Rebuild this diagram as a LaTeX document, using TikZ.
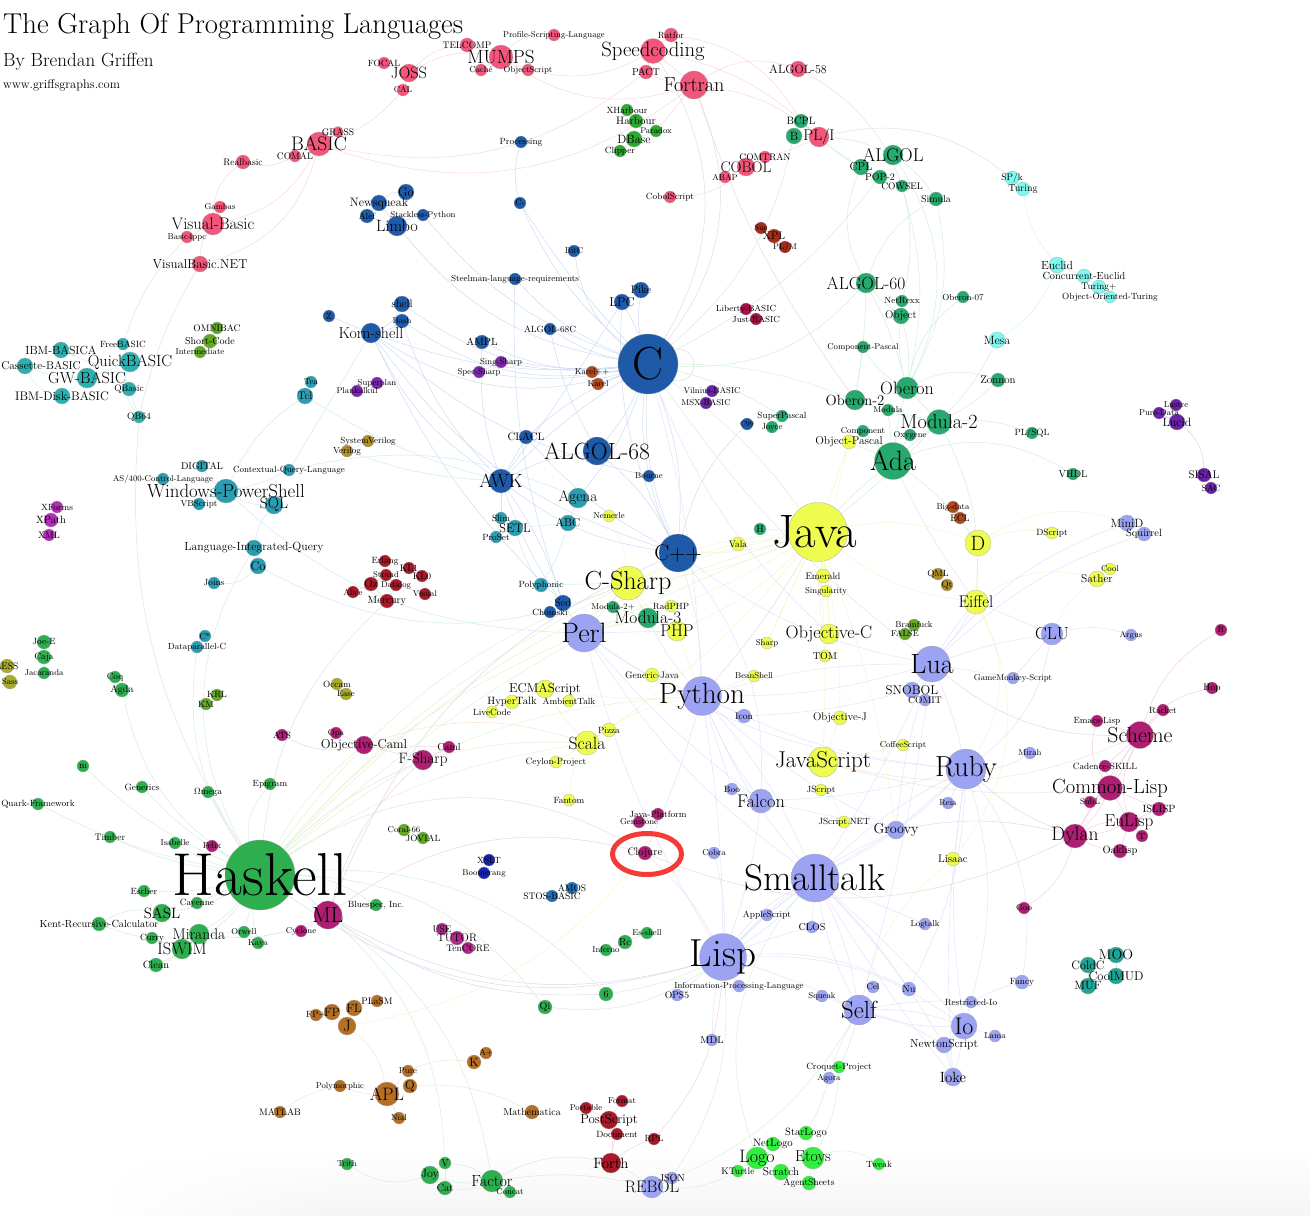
\documentclass[tikz,border=0pt]{standalone}
\usetikzlibrary{shapes.geometric}
\pgfdeclarelayer{bg}\pgfsetlayers{bg,main}
\definecolor{cPk}{HTML}{F2567B}\definecolor{cBl}{HTML}{1F5AA8}\definecolor{cTe}{HTML}{2A9DB3}
\definecolor{cTq}{HTML}{2BB0B0}\definecolor{cGr}{HTML}{2DAF4F}\definecolor{cDg}{HTML}{27A96E}
\definecolor{cYe}{HTML}{EEFC4F}\definecolor{cPw}{HTML}{9BA3F2}\definecolor{cMg}{HTML}{AE1E73}
\definecolor{cBr}{HTML}{B56F25}\definecolor{cDr}{HTML}{A9192A}\definecolor{cLc}{HTML}{7FF9F0}
\definecolor{cLm}{HTML}{2FF03F}\definecolor{cPu}{HTML}{6A22A8}\definecolor{cVi}{HTML}{7D27AC}
\definecolor{cXm}{HTML}{B62BBC}\definecolor{cOl}{HTML}{A8AB2C}\definecolor{cOg}{HTML}{62A825}
\definecolor{cRu}{HTML}{B04A1F}\definecolor{cBk}{HTML}{A82A18}\definecolor{cCr}{HTML}{A80F48}
\definecolor{cDy}{HTML}{B08F2A}\definecolor{cBg}{HTML}{2CA92F}\definecolor{cNv}{HTML}{1A24B0}
\definecolor{cMb}{HTML}{2070B8}\definecolor{cTg}{HTML}{1FA596}\definecolor{cDm}{HTML}{B02A8C}
\definecolor{ePk}{HTML}{FBD3E0}\definecolor{eMa}{HTML}{E0D8E2}\definecolor{eBe}{HTML}{E3E0D4}
\definecolor{eTe}{HTML}{CDF0F0}\definecolor{eBl}{HTML}{CBD9F0}\definecolor{eCy}{HTML}{CBEAF2}
\definecolor{eGr}{HTML}{D2EDD8}\definecolor{eYg}{HTML}{E2F2CB}\definecolor{eYe}{HTML}{F2F7C8}
\definecolor{ePw}{HTML}{E0E2FB}\definecolor{eDg}{HTML}{CEEDE1}\definecolor{eMp}{HTML}{F2CDDE}
\definecolor{eOr}{HTML}{F5E1CE}\definecolor{ePu}{HTML}{E0CEF0}\definecolor{eLc}{HTML}{CEF8F0}
\definecolor{eGy}{HTML}{E2DFDF}\definecolor{eVi}{HTML}{DCD5EB}\definecolor{eLi}{HTML}{CEF5D2}
\definecolor{ringred}{HTML}{F43B35}
\tikzset{
 lang/.style={circle,inner sep=0pt,draw=black!35,line width=.25pt},
 lab/.style={inner sep=0pt,text=black},
 edge/.style={line width=.45pt},
 ttl/.style={inner sep=0pt,anchor=west}
}
\newcommand{\Ln}{}
\newcommand{\LnCircle}[8][0]{\node[lang,fill=#6,minimum size=2*#5pt] (#2) at (#3pt,-#4pt) {};}
\newcommand{\LnLabel}[8][0]{\pgfmathsetmacro\fsz{#7<13?#7:(#7<30?#7*1.09:#7*1.13)}\node[lab,font=\fontsize{\fsz}{\fsz}\selectfont] (#2t) at ([xshift=#1pt]#2) {#8};}
\newcommand{\Ed}[2]{\foreach \a/\b/\c in {#2}{\draw[edge,#1] (\a) to[bend left=\c] (\b);}}
\newcommand{\AllNodes}{%
\Ln{focal}{384}{63}{6}{cPk}{9}{FOCAL}\Ln{joss}{409}{73}{9}{cPk}{15}{JOSS}\Ln{cal}{403}{90}{6}{cPk}{8.5}{CAL}
\Ln{telcomp}{467}{45}{7}{cPk}{9.5}{TELCOMP}\Ln{mumps}{501}{57}{12}{cPk}{17.5}{MUMPS}
\Ln{profile}{554}{35}{6}{cPk}{8.5}{Profile-Scripting-Language}\Ln{cache}{481}{70}{6}{cPk}{8.5}{Caché}
\Ln{objectscript}{528}{70}{6}{cPk}{8.5}{ObjectScript}\Ln{speedcoding}{653}{51}{12.5}{cPk}{19}{Speedcoding}
\Ln{ratfor}{671}{35}{7}{cPk}{9}{Ratfor}\Ln{pact}{646}{72}{7}{cPk}{10}{PACT}\Ln{fortran}{694}{85}{14}{cPk}{18.5}{Fortran}
\Ln{algolfe}{798}{69}{8}{cPk}{12}{ALGOL-58}\Ln{comtran}{765}{157}{6}{cPk}{9.5}{COMTRAN}\Ln{cobol}{746}{167}{9}{cPk}{14}{COBOL}
\Ln{abap}{725}{177}{6}{cPk}{8.5}{ABAP}\Ln{cobolscript}{670}{197}{6}{cPk}{9}{CobolScript}\Ln{pli}{819}{137}{10}{cPk}{14.3}{PL/I}
\Ln{basic}{319}{144}{12}{cPk}{18}{BASIC}\Ln{grass}{338}{132}{5.5}{cPk}{9.5}{GRASS}\Ln{comal}{295}{156}{6}{cPk}{9.5}{COMAL}
\Ln{realbasic}{243}{162}{7}{cPk}{9.5}{Realbasic}\Ln{gambas}{220}{207}{6}{cPk}{8.5}{Gambas}\Ln{visualbasic}{213}{224}{11}{cPk}{15.3}{Visual-Basic}
\Ln{bfp}{187}{237}{6}{cPk}{8.5}{Basic4ppc}\Ln{vbnet}{200}{264}{8}{cPk}{12.9}{VisualBasic.NET}
\Ln{xharbour}{627}{110}{6}{cBg}{9}{XHarbour}\Ln{harbour}{636}{121}{7}{cBg}{10.8}{Harbour}\Ln{paradox}{656}{131}{6}{cBg}{8.5}{Paradox}
\Ln{dbase}{634}{139}{8}{cBg}{12}{DBase}\Ln{clipper}{620}{151}{6}{cBg}{9}{Clipper}
\Ln{processing}{521}{142}{6}{cBl}{9}{Processing}\Ln{cminus}{520}{203}{6}{cBl}{8.5}{C-}\Ln{bitc}{574}{251}{6}{cBl}{8.5}{BitC}
\Ln{steelman}{515}{279}{6}{cBl}{8.8}{Steelman-language-requirements}\Ln{pike}{641}{290}{8}{cBl}{11}{Pike}\Ln{lpc}{622}{302}{8}{cBl}{12.8}{LPC}
\Ln{algolsc}{550}{329}{6}{cBl}{9}{ALGOL-68C}\Ln{c}{648}{364}{30}{cBl}{41}{C}\Ln{ampl}{482}{342}{7}{cBl}{10.5}{AMPL}
\Ln{go}{406}{192}{8}{cBl}{12.5}{Go}\Ln{newsqueak}{379}{203}{8}{cBl}{12.2}{Newsqueak}\Ln{alef}{367}{216}{7}{cBl}{9}{Alef}
\Ln{stackless}{423}{215}{6}{cBl}{8.5}{Stackless-Python}\Ln{limbo}{397}{226}{10}{cBl}{15}{Limbo}
\Ln{shell}{402}{304}{8}{cBl}{11}{shell}\Ln{z}{329}{316}{6}{cBl}{9}{Z}\Ln{bash}{402}{321}{7}{cBl}{8.5}{Bash}\Ln{korn}{371}{333}{10}{cBl}{14.5}{Korn-shell}
\Ln{clacl}{526}{437}{7}{cBl}{10.8}{CLACL}\Ln{algolsix}{597}{451}{14}{cBl}{21.5}{ALGOL-68}\Ln{bourne}{649}{476}{6}{cBl}{8.5}{Bourne}
\Ln{awk}{501}{481}{12}{cBl}{17.5}{AWK}\Ln{cpp}{678}{553}{19}{cBl}{20.6}{C++}\Ln{sed}{563}{603}{8}{cBl}{11}{Sed}\Ln{chomski}{550}{612}{6}{cBl}{9}{Chomski}\Ln{cnn}{747}{424}{6}{cBl}{7.5}{C99}
\Ln{sue}{761}{228}{6}{cBk}{8}{Sue}\Ln{xpl}{774}{236}{7}{cBk}{11}{XPL}\Ln{plm}{785}{247}{6}{cBk}{8.5}{PL/M}
\Ln{liberty}{746}{309}{6}{cCr}{8.8}{Liberty-BASIC}\Ln{justb}{756}{319}{6}{cCr}{8.8}{Just-BASIC}
\Ln{singsharp}{501}{362}{6}{cVi}{8.5}{Sing-Sharp}\Ln{specsharp}{479}{372}{6}{cVi}{8.5}{Spec-Sharp}
\Ln{karelpp}{592}{372}{6}{cRu}{8.5}{Karel++}\Ln{karel}{598}{384}{6}{cRu}{8.5}{Karel}
\Ln{vilnius}{712}{391}{6}{cPu}{8.5}{Vilnius-BASIC}\Ln{msx}{706}{403}{6}{cPu}{8.5}{MSX-BASIC}
\Ln{superplan}{377}{383}{6}{cVi}{8.5}{Superplan}\Ln{plankalkul}{357}{391}{6}{cVi}{8.5}{Plankalkül}
\Ln{sysverilog}{368}{441}{6}{cDy}{8.8}{SystemVerilog}\Ln{verilog}{347}{451}{6}{cDy}{8.8}{Verilog}
\Ln{bcpl}{801}{121}{7}{cDg}{10.6}{BCPL}\Ln{b}{794}{136}{8}{cDg}{12}{B}\Ln{algol}{893}{155}{10}{cDg}{17}{ALGOL}\Ln{cpl}{861}{167}{8}{cDg}{11.5}{CPL}
\Ln{pop}{880}{177}{7}{cDg}{10}{POP-2}\Ln{cowsel}{902}{186}{6}{cDg}{9.5}{COWSEL}\Ln{simula}{936}{199}{7}{cDg}{10}{Simula}
\Ln{algolsx}{866}{283}{10}{cDg}{16}{ALGOL-60}\Ln{netrexx}{902}{301}{6}{cDg}{9}{NetRexx}\Ln{object}{901}{316}{8}{cDg}{11}{Object}\Ln{oberonsv}{963}{297}{6}{cDg}{8.8}{Oberon-07}
\Ln{comppascal}{863}{347}{6}{cDg}{8.5}{Component-Pascal}\Ln{zonnon}{998}{380}{7}{cDg}{11}{Zonnon}\Ln{oberon}{907}{388}{11}{cDg}{16.5}{Oberon}
\Ln{oberontwo}{855}{400}{10}{cDg}{13.5}{Oberon-2}\Ln{modula}{888}{410}{6}{cDg}{8.5}{Modula}\Ln{modulatwo}{939}{422}{12.5}{cDg}{18.5}{Modula-2}
\Ln{component}{863}{431}{6}{cDg}{8.5}{Component}\Ln{oxygene}{910}{435}{6}{cDg}{8.5}{Oxygene}\Ln{ada}{893}{461}{18.5}{cDg}{25.6}{Ada}
\Ln{plsql}{1032}{433}{6}{cDg}{9}{PL/SQL}\Ln{vhdl}{1073}{474}{6}{cDg}{10}{VHDL}\Ln{superpascal}{782}{416}{6}{cDg}{9}{SuperPascal}\Ln{joyce}{772}{427}{6}{cDg}{8.5}{Joyce}
\Ln{h}{760}{529}{6}{cDg}{10}{H}\Ln{modulatp}{613}{607}{6}{cDg}{8.5}{Modula-2+}\Ln{modulath}{648}{618}{10}{cDg}{16}{Modula-3}
\Ln{spk}{1012}{178}{7}{cLc}{9.5}{SP/k}\Ln{turing}{1023}{189}{7}{cLc}{10}{Turing}\Ln{euclid}{1057}{265}{8}{cLc}{11.7}{Euclid}
\Ln{ceuclid}{1084}{276}{7}{cLc}{10.3}{Concurrent-Euclid}\Ln{turingp}{1099}{287}{7}{cLc}{9.5}{Turing+}\Ln{oot}{1110}{297}{6}{cLc}{9}{Object-Oriented-Turing}\Ln{mesa}{997}{340}{8}{cLc}{12}{Mesa}
\Ln{lustre}{1176}{405}{6}{cPu}{8.5}{Lustre}\Ln{puredata}{1159}{413}{6}{cPu}{8.5}{Pure-Data}\Ln{lucid}{1177}{422}{8}{cPu}{12}{Lucid}\Ln{sisal}{1204}{475}{7}{cPu}{11}{SISAL}\Ln{sac}{1211}{488}{6}{cPu}{9}{SAC}
\Ln[-3]{java}{818}{532}{29.5}{cYe}{41.5}{Java}\Ln{objectpascal}{849}{442}{7}{cYe}{11.4}{Object-Pascal}\Ln{d}{978}{543}{13}{cYe}{19}{D}\Ln{dscript}{1052}{533}{6}{cYe}{9}{DScript}
\Ln{cool}{1110}{569}{6}{cYe}{8.5}{Cool}\Ln{sather}{1097}{579}{8}{cYe}{11.4}{Sather}\Ln{eiffel}{976}{602}{12}{cYe}{15.5}{Eiffel}
\Ln{coffeescript}{903}{745}{6}{cYe}{8.5}{CoffeeScript}\Ln{lisaac}{953}{859}{7}{cYe}{11}{Lisaac}\Ln{nemerle}{609}{516}{6}{cYe}{8.5}{Nemerle}
\Ln{vala}{738}{544}{7}{cYe}{9.5}{Vala}\Ln{emerald}{823}{576}{7}{cYe}{9.5}{Emerald}\Ln{singularity}{826}{591}{6}{cYe}{8.5}{Singularity}\Ln{csharp}{628}{583}{17}{cYe}{24}{C-Sharp}
\Ln{radphp}{671}{606}{6}{cYe}{9}{RadPHP}\Ln{php}{677}{631}{10}{cYe}{15.7}{PHP}\Ln{sharp}{767}{643}{6}{cYe}{8.5}{Sharp}\Ln{objectivec}{829}{634}{10}{cYe}{16.6}{Objective-C}\Ln{tom}{825}{656}{6}{cYe}{10}{TOM}
\Ln{genericjava}{652}{675}{7}{cYe}{9.5}{Generic-Java}\Ln{beanshell}{754}{676}{6}{cYe}{8.5}{BeanShell}\Ln{ecmascript}{545}{689}{9}{cYe}{12.9}{ECMAScript}\Ln{hypertalk}{512}{702}{7}{cYe}{10.6}{HyperTalk}
\Ln{ambienttalk}{569}{701}{6}{cYe}{9}{AmbientTalk}\Ln{livecode}{492}{712}{6}{cYe}{9}{LiveCode}\Ln{objectivej}{840}{718}{7}{cYe}{11}{Objective-J}\Ln{pizza}{609}{730}{7}{cYe}{9}{Pizza}\Ln{scala}{587}{743}{12}{cYe}{16.2}{Scala}
\Ln{ceylon}{556}{762}{6}{cYe}{9}{Ceylon-Project}\Ln{javascript}{823}{762}{15}{cYe}{21}{JavaScript}\Ln{jscript}{821}{790}{6}{cYe}{9}{JScript}\Ln{fantom}{569}{800}{6}{cYe}{9}{Fantom}\Ln{jscriptnet}{844}{822}{6}{cYe}{9}{JScript.NET}
\Ln{minid}{1127}{523}{8}{cPw}{12}{MiniD}\Ln{squirrel}{1144}{534}{7}{cPw}{10.5}{Squirrel}\Ln{clu}{1052}{634}{11}{cPw}{16}{CLU}\Ln{argus}{1131}{635}{6}{cPw}{8.5}{Argus}
\Ln{lua}{932}{664}{18}{cPw}{25.6}{Lua}\Ln{gamemonkey}{1013}{678}{6}{cPw}{8.5}{GameMonkey-Script}\Ln{snobol}{912}{690}{8}{cPw}{12.8}{SNOBOL}\Ln{comit}{925}{700}{6}{cPw}{9.6}{COMIT}
\Ln{mirah}{1030}{753}{6}{cPw}{8.5}{Mirah}\Ln{ruby}{966}{769}{20}{cPw}{26.6}{Ruby}\Ln{reia}{948}{803}{6}{cPw}{8.5}{Reia}\Ln{groovy}{896}{830}{9}{cPw}{13}{Groovy}
\Ln{perl}{584}{633}{19}{cPw}{25.7}{Perl}\Ln{python}{702}{696}{19.5}{cPw}{26.8}{Python}\Ln{icon}{744}{716}{7}{cPw}{9.5}{Icon}\Ln{boo}{732}{789}{6}{cPw}{9}{Boo}\Ln{falcon}{761}{801}{12}{cPw}{16.8}{Falcon}
\Ln{smalltalk}{815}{878}{24}{cPw}{32.8}{Smalltalk}\Ln{cobra}{714}{853}{6}{cPw}{8.5}{Cobra}\Ln{applescript}{767}{915}{6}{cPw}{9}{AppleScript}\Ln{clos}{812}{927}{6}{cPw}{10}{CLOS}\Ln{logtalk}{925}{924}{6}{cPw}{8.5}{Logtalk}
\Ln{lisp}{723}{957}{23.5}{cPw}{34.6}{Lisp}\Ln{ipl}{739}{986}{6}{cPw}{8.6}{Information-Processing-Language}\Ln{ops}{677}{995}{6}{cPw}{9.6}{OPS5}\Ln{squeak}{822}{996}{6}{cPw}{8.5}{Squeak}\Ln{cel}{873}{987}{6}{cPw}{8.5}{Cel}\Ln{nu}{909}{989}{7}{cPw}{10}{Nu}
\Ln{self}{859}{1010}{15}{cPw}{22.7}{Self}\Ln{restrictedio}{971}{1002}{6}{cPw}{9}{Restricted-Io}\Ln{fancy}{1022}{982}{7}{cPw}{9}{Fancy}\Ln{io}{964}{1026}{13}{cPw}{22}{Io}\Ln{lama}{995}{1036}{6}{cPw}{8.5}{Lama}
\Ln{newtonscript}{944}{1045}{8}{cPw}{11.6}{NewtonScript}\Ln{ioke}{953}{1077}{9}{cPw}{13.6}{Ioke}\Ln{mdl}{712}{1040}{6}{cPw}{10}{MDL}\Ln{agora}{829}{1078}{6}{cPw}{8.5}{Agora}\Ln{json}{672}{1178}{6}{cPw}{10}{JSON}\Ln{rebol}{652}{1187}{11}{cPw}{15.3}{REBOL}
\Ln{r}{1221}{630}{6}{cMg}{9}{R}\Ln{hop}{1212}{688}{6}{cMg}{9.5}{Hop}\Ln{racket}{1163}{710}{6}{cMg}{9}{Racket}\Ln{emacslisp}{1097}{721}{6}{cMg}{9}{Emacs-Lisp}\Ln{scheme}{1140}{735}{13.5}{cMg}{20}{Scheme}
\Ln{cadence}{1105}{766}{6}{cMg}{9}{Cadence-SKILL}\Ln{commonlisp}{1110}{788}{12.5}{cMg}{18.8}{Common-Lisp}\Ln{subl}{1090}{802}{6}{cMg}{8.5}{SubL}\Ln{islisp}{1159}{809}{7}{cMg}{10.5}{ISLISP}\Ln{eulisp}{1129}{822}{10}{cMg}{15.8}{EuLisp}
\Ln{t}{1142}{836}{6}{cMg}{9}{T}\Ln{dylan}{1075}{836}{12}{cMg}{17.9}{Dylan}\Ln{oaklisp}{1120}{851}{7}{cMg}{10.5}{Oaklisp}\Ln{goo}{1024}{908}{6}{cMg}{8.5}{Goo}
\Ln{clojure}{645}{853}{7}{cMg}{11}{Clojure}\Ln{javaplatform}{658}{814}{6}{cMg}{9}{Java-Platform}\Ln{gemstone}{639}{822}{6}{cMg}{8.5}{Gemstone}
\Ln{ats}{282}{735}{6}{cMg}{9}{ATS}\Ln{opa}{336}{733}{6}{cMg}{8.5}{Opa}\Ln{objcaml}{364}{745}{9}{cMg}{12.9}{Objective-Caml}\Ln{fsharp}{423}{760}{10}{cMg}{13.8}{F-Sharp}\Ln{caml}{449}{747}{6}{cMg}{10}{Caml}
\Ln{felix}{212}{846}{6}{cMg}{8.5}{Felix}\Ln{ml}{328}{915}{14}{cMg}{20}{ML}\Ln{cyclone}{301}{931}{6}{cMg}{8.5}{Cyclone}
\Ln{use}{442}{929}{6}{cDm}{9.5}{USE}\Ln{tutor}{457}{938}{7}{cDm}{11}{TUTOR}\Ln{tencore}{468}{948}{6}{cDm}{9.5}{TenCORE}
\Ln{bigdata}{953}{507}{6}{cRu}{8.5}{Big-data}\Ln{ecl}{960}{518}{6}{cRu}{9.5}{ECL}\Ln{qml}{938}{574}{6}{cDy}{9}{QML}\Ln{qt}{947}{585}{6}{cDy}{9}{Qt}
\Ln{brainfuck}{914}{625}{6}{cOg}{8.5}{Brainfuck}\Ln{false}{905}{634}{6}{cOg}{8.5}{FALSE}
\Ln{moo}{1116}{955}{8}{cTg}{13}{MOO}\Ln{coldc}{1088}{965}{8}{cTg}{12.2}{ColdC}\Ln{coolmud}{1116}{976}{8}{cTg}{12.6}{CoolMUD}\Ln{muf}{1088}{986}{8}{cTg}{12}{MUF}
\Ln{croquet}{839}{1067}{6}{cLm}{9}{Croquet-Project}\Ln{starlogo}{806}{1133}{7}{cLm}{10.5}{StarLogo}\Ln{netlogo}{773}{1144}{7}{cLm}{10.7}{NetLogo}\Ln{logo}{757}{1158}{11}{cLm}{16.5}{Logo}
\Ln{etoys}{813}{1158}{11}{cLm}{14.5}{Etoys}\Ln{tweak}{879}{1164}{6}{cLm}{9}{Tweak}\Ln{scratch}{781}{1172}{8}{cLm}{11.4}{Scratch}\Ln{kturtle}{738}{1171}{6}{cLm}{9.5}{KTurtle}\Ln{agentsheets}{809}{1183}{7}{cLm}{9.5}{AgentSheets}
\Ln{timber}{110}{837}{6}{cGr}{9.5}{Timber}\Ln{isabelle}{175}{843}{6}{cGr}{8.5}{Isabelle}\Ln{haskell}{260}{875}{35}{cGr}{53.6}{Haskell}\Ln{escher}{144}{891}{6}{cGr}{9}{Escher}\Ln{cayenne}{197}{903}{6}{cGr}{9}{Cayenne}
\Ln{sasl}{162}{913}{9}{cGr}{13.7}{SASL}\Ln{krc}{99}{924}{7}{cGr}{10.3}{Kent-Recursive-Calculator}\Ln{miranda}{199}{934}{10}{cGr}{14.2}{Miranda}\Ln{orwell}{244}{932}{6}{cGr}{8.5}{Orwell}\Ln{kaya}{258}{943}{6}{cGr}{8.5}{Kaya}
\Ln{curry}{152}{938}{6}{cGr}{9}{Curry}\Ln{iswim}{182}{949}{10}{cGr}{15.2}{ISWIM}\Ln{clean}{156}{965}{7}{cGr}{10.5}{Clean}\Ln{bluespec}{376}{905}{6}{cGr}{9}{Bluespec, Inc.}
\Ln{esshell}{647}{933}{6}{cGr}{8.5}{Es-shell}\Ln{rc}{625}{942}{7}{cGr}{10}{Rc}\Ln{inferno}{606}{950}{6}{cGr}{8.5}{Inferno}\Ln{six}{606}{994}{7}{cGr}{10}{6}\Ln{qi}{545}{1007}{7}{cGr}{10}{Qi}
\Ln{trith}{347}{1164}{6}{cGr}{8.5}{Trith}\Ln{v}{445}{1163}{6}{cGr}{10}{V}\Ln{joy}{430}{1175}{9}{cGr}{12}{Joy}\Ln{cat}{445}{1188}{7}{cGr}{10.5}{Cat}\Ln{factor}{492}{1181}{11}{cGr}{14.8}{Factor}\Ln{concat}{510}{1192}{6}{cGr}{8.5}{Concat}
\Ln{joee}{44}{642}{7}{cGr}{9}{Joe-E}\Ln{caja}{44}{657}{7}{cGr}{9}{Caja}\Ln{jacaranda}{44}{673}{6}{cGr}{8.5}{Jacaranda}\Ln{coq}{115}{677}{6}{cGr}{9}{Coq}\Ln{agda}{122}{690}{7}{cGr}{10}{Agda}
\Ln{m}{83}{766}{6}{cGr}{9.5}{m}\Ln{generics}{142}{787}{6}{cGr}{9}{Generics}\Ln{omega}{208}{792}{6}{cGr}{9}{$\Omega$mega}\Ln{epigram}{270}{784}{6}{cGr}{9}{Epigram}\Ln{quark}{38}{804}{6}{cGr}{9}{Quark-Framework}
\Ln{coral}{404}{830}{6}{cOg}{8.5}{Coral-66}\Ln{jovial}{423}{838}{6}{cOg}{9}{JOVIAL}\Ln{omnibac}{217}{328}{6}{cOg}{9.5}{OMNIBAC}\Ln{shortcode}{210}{341}{7}{cOg}{10}{Short-Code}\Ln{intermediate}{200}{352}{6}{cOg}{8.5}{Intermediate}
\Ln{krl}{217}{695}{6}{cOg}{9}{KRL}\Ln{km}{206}{704}{6}{cOg}{9}{KM}\Ln{occam}{337}{684}{6}{cOl}{9}{Occam}\Ln{ease}{346}{694}{6}{cOl}{8.5}{Ease}\Ln{less}{7}{666}{7}{cOl}{9.5}{LESS}\Ln{sass}{10}{682}{7}{cOl}{8.5}{Sass}
\Ln{xslt}{489}{860}{6}{cNv}{9}{XSLT}\Ln{boomerang}{484}{873}{6}{cNv}{8.5}{Boomerang}\Ln{amos}{572}{888}{6}{cMb}{9.5}{AMOS}\Ln{stos}{552}{896}{6}{cMb}{9.5}{STOS-BASIC}
\Ln{fpp}{316}{1015}{6}{cBr}{9}{FP+}\Ln{fp}{332}{1012}{8}{cBr}{12}{FP}\Ln{fl}{354}{1008}{8}{cBr}{12}{FL}\Ln{plasm}{377}{1001}{6}{cBr}{9.5}{PLaSM}\Ln{j}{347}{1026}{9}{cBr}{15}{J}
\Ln{aplus}{486}{1053}{6}{cBr}{8.5}{A+}\Ln{k}{474}{1062}{7}{cBr}{12}{K}\Ln{pure}{408}{1071}{6}{cBr}{8.5}{Pure}\Ln{q}{410}{1086}{7}{cBr}{12.5}{Q}\Ln{apl}{387}{1094}{12}{cBr}{16.5}{APL}
\Ln{polymorphic}{340}{1086}{6}{cBr}{8.5}{Polymorphic}\Ln{matlab}{280}{1112}{6}{cBr}{9.5}{MATLAB}\Ln{nial}{399}{1118}{6}{cBr}{8.5}{Nial}\Ln{mathematica}{532}{1112}{7}{cBr}{10}{Mathematica}
\Ln{format}{622}{1101}{6}{cDr}{8.5}{Format}\Ln{portable}{586}{1108}{6}{cDr}{8.5}{Portable}\Ln{postscript}{609}{1120}{9}{cDr}{12.9}{PostScript}\Ln{document}{617}{1134}{6}{cDr}{9}{Document}\Ln{rpl}{654}{1139}{6}{cDr}{9}{RPL}\Ln{forth}{611}{1163}{10}{cDr}{13.7}{Forth}
\Ln{erlang}{385}{561}{6}{cDr}{9}{Erlang}\Ln{klone}{409}{568}{6}{cDr}{9.5}{KL1}\Ln{strand}{386}{575}{6}{cDr}{8.5}{Strand}\Ln{klzero}{422}{576}{6}{cDr}{9.5}{KL0}\Ln{oz}{371}{584}{7}{cDr}{11}{Oz}\Ln{datalog}{396}{585}{6}{cDr}{8.5}{Datalog}
\Ln{alice}{353}{592}{6}{cDr}{8.5}{Alice}\Ln{visual}{425}{594}{6}{cDr}{8.5}{Visual}\Ln{mercury}{387}{601}{7}{cDr}{10.5}{Mercury}
\Ln{freebasic}{123}{344}{6}{cTq}{9}{FreeBASIC}\Ln{ibmbasica}{61}{350}{8}{cTq}{11.8}{IBM-BASICA}\Ln{quickbasic}{130}{362}{10}{cTq}{14.9}{QuickBASIC}\Ln[16]{cassette}{25}{366}{8}{cTq}{11.4}{Cassette-BASIC}
\Ln{gwbasic}{87}{378}{10}{cTq}{14.7}{GW-BASIC}\Ln{qbasic}{129}{389}{7}{cTq}{9.5}{QBasic}\Ln{ibmdisk}{62}{396}{8}{cTq}{12.4}{IBM-Disk-BASIC}\Ln{qbsf}{139}{417}{6}{cTq}{9.5}{QB64}
\Ln{tea}{311}{382}{6}{cTe}{8.5}{Tea}\Ln{tcl}{305}{396}{8}{cTe}{11}{Tcl}\Ln{digital}{202}{466}{6}{cTe}{9.8}{DIGITAL}\Ln{contextual}{289}{470}{6}{cTe}{8.8}{Contextual-Query-Language}\Ln{asfour}{163}{479}{6}{cTe}{8.5}{AS/400-Control-Language}
\Ln{powershell}{226}{491}{12}{cTe}{17.3}{Windows-PowerShell}\Ln{vbscript}{199}{504}{6}{cTe}{8.8}{VBScript}\Ln{sql}{274}{505}{9}{cTe}{14.3}{SQL}\Ln{linq}{254}{548}{8}{cTe}{11.8}{Language-Integrated-Query}\Ln{co}{258}{566}{8}{cTe}{12.5}{Co}
\Ln{joins}{214}{583}{6}{cTe}{9}{Joins}\Ln{cstar}{205}{636}{6}{cTe}{8.5}{C*}\Ln{dataparallel}{197}{647}{6}{cTe}{8.8}{Dataparallel-C}
\Ln{agena}{578}{498}{10}{cTe}{14}{Agena}\Ln{abc}{568}{523}{8}{cTe}{11.5}{ABC}\Ln{slim}{501}{518}{6}{cTe}{9}{Slim}\Ln{setl}{515}{528}{8}{cTe}{12.4}{SETL}\Ln{proset}{496}{537}{6}{cTe}{9}{ProSet}\Ln{polyphonic}{541}{585}{7}{cTe}{9}{Polyphonic}
\Ln{xforms}{57}{507}{6}{cXm}{9}{XForms}\Ln{xpath}{51}{520}{7}{cXm}{10.5}{XPath}\Ln{xml}{49}{535}{6}{cXm}{9.5}{XML}%
}
\begin{document}
\begin{tikzpicture}
\useasboundingbox (0pt,0pt) rectangle (1310pt,-1216pt);
\begin{pgfonlayer}{bg}
\fill[white] (0pt,0pt) rectangle (1310pt,-1216pt);
\foreach \i in {0,...,19}{
 \pgfmathsetmacro\sx{100+12*\i}\pgfmathsetmacro\ex{\sx+12.3}\pgfmathsetmacro\sp{0.2*(\i+1)}
 \shade[top color=white,bottom color=black!\sp] (\sx pt,-1150pt) rectangle (\ex pt,-1216pt);
}
\shade[top color=white,bottom color=black!4] (340pt,-1150pt) rectangle (1310pt,-1216pt);
\end{pgfonlayer}
\node[ttl,font=\fontsize{28.7}{28.7}\selectfont] (title) at (3pt,-26pt) {The Graph Of Programming Languages};
\node[ttl,font=\fontsize{19}{19}\selectfont] (by) at (3pt,-62pt) {By Brendan Griffen};
\node[ttl,font=\fontsize{12.5}{12.5}\selectfont] (www) at (3pt,-85pt) {www.griffsgraphs.com};
\let\Ln\LnCircle
\AllNodes
\node[draw=ringred,line width=5pt,ellipse,minimum width=69pt,minimum height=41pt,inner sep=0pt] (ring) at (647pt,-854pt) {};
\begin{pgfonlayer}{bg}
\draw[edge,eBl] (c) ++(30pt,-1pt) circle (16pt);
\Ed{ePk}{focal/joss/0,joss/cal/0,joss/telcomp/20,joss/mumps/20,basic/cal/-15,grass/basic/0,basic/pact/-25,basic/fortran/-28,comal/basic/0,comal/realbasic/20,realbasic/visualbasic/-25,visualbasic/basic/-25,vbnet/basic/-30,gambas/visualbasic/0,bfp/visualbasic/0,visualbasic/vbnet/-15,telcomp/mumps/0,mumps/profile/25,mumps/cache/0,mumps/objectscript/0,objectscript/speedcoding/-20,mumps/fortran/-25,speedcoding/ratfor/0,speedcoding/pact/0,speedcoding/fortran/0,speedcoding/pli/15,ratfor/bcpl/25,fortran/pli/15,fortran/algolfe/25,fortran/paradox/0,cobol/comtran/0,cobol/abap/0,cobolscript/cobol/-20,comtran/pli/-5,pact/fortran/-10}
\Ed{eMa}{speedcoding/c/32,fortran/c/30,fortran/oberontwo/-8}
\Ed{eGy}{algolfe/netrexx/38,pli/spk/25,pli/algol/10,mercury/haskell/-20,haskell/clojure/32,haskell/fsharp/10}
\Ed{eBe}{vbnet/qbsf/-8,bfp/freebasic/-12,qbsf/haskell/-18,forth/factor/-20,rebol/factor/-10}
\Ed{eTe}{cassette/ibmbasica/25,ibmbasica/quickbasic/-15,cassette/gwbasic/-10,cassette/ibmdisk/-25,ibmdisk/gwbasic/0,gwbasic/quickbasic/0,quickbasic/qbasic/-20,freebasic/quickbasic/0,qbasic/qbsf/0,quickbasic/qbsf/-25}
\Ed{eBl}{newsqueak/go/20,newsqueak/limbo/0,alef/limbo/0,alef/newsqueak/0,limbo/stackless/10,limbo/c/-20,stackless/c/-15,shell/c/-20,bash/c/-22,korn/c/-25,korn/c/-12,z/korn/0,shell/korn/20,bash/korn/15,korn/awk/-15,bash/awk/-12,korn/sed/-10,processing/cminus/-15,cminus/c/-12,cminus/c/-5,bitc/c/-20,steelman/sed/-10,steelman/c/-12,lpc/c/5,pike/c/-10,lpc/cpp/-15,lpc/awk/2,algolsc/c/-10,algolsc/algolsix/-8,ampl/c/-15,ampl/awk/-10,karel/c/0,karelpp/c/-6,karel/karelpp/0,singsharp/c/-8,specsharp/c/-10,c/cpp/12,c/cpp/-12,c/bourne/-8,c/algolsix/8,c/clacl/-8,c/awk/-6,c/agena/10,korn/cpp/-18,clacl/awk/0,algolsix/awk/-10,algolsix/cpp/10,awk/perl/-8,slim/awk/0,sed/awk/-8,chomski/sed/0,bourne/cpp/-6,clacl/cpp/-10,cnn/cpp/-15,korn/bourne/-14,awk/cpp/-14}
\Ed{eCy}{digital/powershell/-12,asfour/powershell/-25,vbscript/powershell/12,sql/powershell/15,sql/powershell/-15,contextual/powershell/8,tcl/powershell/-15,tea/tcl/0,korn/contextual/0,sql/linq/-15,powershell/perl/-20,co/csharp/-25,joins/co/-25,linq/co/0,contextual/agena/18,verilog/awk/-8,sysverilog/verilog/0,tcl/awk/-8,cstar/dataparallel/0,polyphonic/setl/8,setl/abc/0,setl/slim/0,setl/proset/0,slim/proset/0,agena/abc/0,abc/polyphonic/8,polyphonic/csharp/0}
\Ed{eGr}{m/haskell/-10,quark/haskell/-8,generics/haskell/-8,timber/haskell/-8,isabelle/haskell/-8,felix/haskell/0,escher/haskell/-8,cayenne/haskell/0,sasl/haskell/-10,krc/sasl/20,krc/miranda/-15,miranda/haskell/-8,orwell/haskell/0,orwell/miranda/0,kaya/haskell/10,curry/iswim/0,iswim/haskell/-12,iswim/miranda/0,clean/iswim/-15,clean/miranda/-10,omega/haskell/-3,epigram/haskell/-25,agda/haskell/-22,coq/agda/0,linq/haskell/-30,dataparallel/haskell/-20,haskell/qi/25,haskell/six/25,haskell/bluespec/15,ml/v/22,ml/factor/22,factor/joy/12,joy/v/0,v/factor/15,cat/factor/-15,cat/joy/0,cat/v/0,trith/joy/-25,concat/factor/0,qi/lisp/-20,six/lisp/-8,esshell/rc/0,rc/inferno/0}
\Ed{eYg}{haskell/csharp/10,haskell/java/15,haskell/perl/12,haskell/python/18,haskell/scala/12,haskell/objcaml/10,haskell/java/10,haskell/csharp/16}
\Ed{eVi}{ml/cpp/22,ml/lisp/-22,haskell/ml/10,haskell/lisp/-26,miranda/ml/-15,ml/six/-18}
\Ed{eMp}{ml/fsharp/15,ml/clojure/25,clojure/dylan/-24,ats/objcaml/-20,opa/objcaml/0,objcaml/caml/0,caml/fsharp/0,objcaml/fsharp/0,ml/cyclone/0,rpl/lisp/-18,scheme/r/20,scheme/hop/20,scheme/racket/0,emacslisp/scheme/0,emacslisp/commonlisp/-25,scheme/commonlisp/6,scheme/commonlisp/-6,scheme/cadence/0,scheme/dylan/-4,scheme/eulisp/-20,commonlisp/eulisp/0,commonlisp/islisp/0,commonlisp/subl/0,commonlisp/dylan/10,commonlisp/dylan/-6,dylan/eulisp/15,dylan/eulisp/-10,eulisp/t/0,eulisp/oaklisp/0,dylan/oaklisp/-10,dylan/goo/20,cadence/commonlisp/0,islisp/eulisp/0}
\Ed{eOr}{j/apl/20,apl/q/0,apl/pure/0,apl/polymorphic/10,apl/matlab/-25,apl/nial/0,pure/k/15,q/mathematica/15,k/aplus/0,j/fp/0,fp/fl/0,fl/plasm/0,fp/fpp/0,j/fl/0,scheme/javascript/18,objcaml/scala/18,fsharp/scala/8,javascript/commonlisp/-10}
\Ed{eYe}{j/clojure/-20,java/cpp/8,java/cpp/-5,java/vala/0,java/d/15,java/eiffel/-15,java/emerald/0,java/singularity/0,java/objectivec/5,java/javascript/3,java/objectivej/6,java/sharp/0,java/tom/-3,java/php/10,java/csharp/8,java/csharp/-5,java/perl/8,java/python/5,java/scala/8,java/groovy/6,java/objectpascal/0,d/dscript/15,d/eiffel/0,eiffel/sather/25,clu/sather/15,cool/sather/0,eiffel/ruby/30,eiffel/lisaac/32,lisaac/self/-18,python/scala/-12,python/ecmascript/6,python/genericjava/0,scala/pizza/0,scala/ceylon/0,scala/fantom/-12,scala/ecmascript/6,ecmascript/hypertalk/0,hypertalk/livecode/0,ecmascript/ambienttalk/0,javascript/jscript/0,javascript/jscriptnet/-6,javascript/coffeescript/0,javascript/objectivej/0,php/csharp/6,php/python/0,radphp/php/0,nemerle/csharp/10,csharp/vala/5,objectivec/tom/0,objectivec/objectpascal/8,beanshell/python/0,sharp/java/0,d/minid/25,emerald/singularity/0}
\Ed{ePw}{python/perl/8,python/cpp/-8,python/ruby/-10,python/smalltalk/-8,python/smalltalk/8,python/lisp/4,python/falcon/-6,python/boo/0,python/icon/0,python/lua/8,python/groovy/-8,python/clojure/4,perl/ruby/-15,perl/smalltalk/-10,perl/lisp/-8,perl/falcon/-6,perl/php/0,perl/csharp/0,cpp/falcon/20,cpp/lua/-12,c/lua/-8,c/python/6,lua/python/8,lua/ruby/5,lua/smalltalk/4,lua/self/4,lua/gamemonkey/0,lua/clu/5,clu/gamemonkey/0,lua/minid/15,lua/squirrel/12,clu/argus/15,clu/ruby/20,eiffel/lua/5,eiffel/lua/-5,snobol/comit/0,snobol/icon/6,snobol/lua/0,ruby/smalltalk/8,ruby/smalltalk/-8,ruby/falcon/6,ruby/groovy/0,ruby/io/-8,ruby/ioke/-6,nu/ruby/-12,ruby/fancy/22,ruby/restrictedio/15,mirah/ruby/15,reia/ruby/0,smalltalk/self/8,smalltalk/self/-8,smalltalk/lisp/8,smalltalk/lisp/-4,smalltalk/lisp/-12,smalltalk/io/3,smalltalk/newtonscript/6,smalltalk/ioke/-3,smalltalk/logtalk/0,smalltalk/applescript/0,smalltalk/clos/0,smalltalk/nu/5,lisp/io/18,lisp/nu/15,lisp/self/4,lisp/clos/4,lisp/applescript/0,lisp/ipl/0,lisp/ops/0,mdl/lisp/5,lisp/groovy/10,lisp/falcon/-6,lisp/cobra/-8,lisp/clojure/-10,json/lisp/-18,rebol/json/-8,self/io/10,self/io/-10,self/newtonscript/8,self/restrictedio/6,self/cel/0,self/squeak/0,self/agora/-6,self/croquet/6,io/newtonscript/0,io/ioke/4,newtonscript/ioke/0,io/lama/0,io/restrictedio/0,fancy/restrictedio/-6,newtonscript/ioke/8,minid/squirrel/0,groovy/smalltalk/0,groovy/falcon/0,groovy/lua/6,python/java/-5,c/objectivec/-12,starlogo/agora/-6}
\Ed{eVi}{groovy/dylan/12,lua/scheme/-20,ruby/dylan/-10}
\Ed{eDg}{algol/cpl/0,cpl/pop/0,pop/cowsel/0,algol/simula/10,algol/oberon/30,simula/oberon/20,cowsel/oberon/14,simula/algolsx/-20,cpl/algolsx/-25,c/algolsx/-25,c/pop/-12,c/b/-18,b/bcpl/0,b/pli/0,bcpl/pli/0,pli/cpl/-6,bcpl/cpl/-6,netrexx/object/0,algolsx/object/-6,algolsx/oberon/6,object/oberon/-10,object/oberon/10,algolsx/oberontwo/4,oberonsv/oberon/-20,comppascal/oberontwo/0,comppascal/oberon/-15,zonnon/oberon/-22,zonnon/modulatwo/8,mesa/modulatwo/8,oberon/modulatwo/0,oberontwo/modulatwo/-6,modula/modulatwo/0,oberon/ada/-4,modulatwo/ada/0,oxygene/ada/0,component/ada/0,objectpascal/ada/0,modulatwo/plsql/12,ada/vhdl/25,joyce/superpascal/0,superpascal/c/-8,ada/eiffel/-5,ada/d/8,modulatwo/eiffel/15,eiffel/clu/0,h/java/0,ada/java/-4,modulatwo/java/4,modula/ada/0,modulath/csharp/0,modulatp/modulath/0,modulath/perl/0,modulath/python/-8}
\Ed{eLi}{c/oberontwo/10,c/java/8,rebol/self/-18,logo/smalltalk/30,logo/netlogo/0,logo/starlogo/0,logo/scratch/0,etoys/scratch/0,etoys/agentsheets/0,etoys/starlogo/0,etoys/tweak/25,logo/kturtle/0,etoys/croquet/-12,rebol/kturtle/-15,forth/rebol/6,scratch/agentsheets/0}
\Ed{eMp}{forth/postscript/-8,forth/rpl/10,portable/postscript/0,format/postscript/0,document/postscript/0,forth/document/6,javaplatform/gemstone/0}
\Ed{ePu}{lucid/sisal/25,sisal/sac/0,lustre/lucid/0,puredata/lucid/0,lustre/puredata/0,singsharp/specsharp/0,vilnius/msx/0,superplan/plankalkul/0}
\Ed{eLc}{spk/turing/0,turing/euclid/-15,euclid/mesa/18,euclid/ceuclid/0,ceuclid/turingp/0,turingp/oot/0}
\Ed{eGr}{xharbour/harbour/0,harbour/dbase/0,paradox/dbase/0,clipper/dbase/0,joee/caja/0,caja/jacaranda/0,moo/coldc/0,coldc/coolmud/0,moo/coolmud/0,coolmud/muf/0,coldc/muf/0,krl/km/0}
\Ed{eGy}{sue/xpl/0,xpl/plm/0,liberty/justb/0,tutor/use/0,tutor/tencore/0,amos/stos/0,xslt/boomerang/0,occam/ease/0,less/sass/0,xforms/xpath/0,xpath/xml/0,bigdata/ecl/0,qml/qt/0,brainfuck/false/0,coral/jovial/0,omnibac/shortcode/0,shortcode/intermediate/0,erlang/strand/0,strand/oz/0,oz/alice/0,oz/mercury/0,klone/klzero/0,strand/klone/0,strand/datalog/0,mercury/datalog/0,datalog/visual/0}
\end{pgfonlayer}
\let\Ln\LnLabel
\AllNodes
\end{tikzpicture}
\end{document}
